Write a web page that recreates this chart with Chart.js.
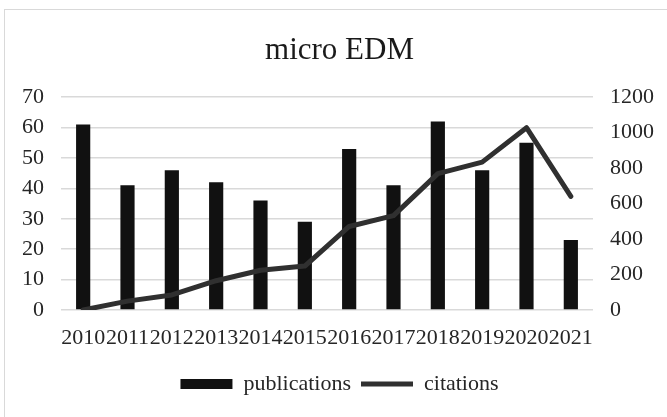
<!DOCTYPE html>
<html>
<head>
<meta charset="utf-8">
<title>micro EDM</title>
<script src="https://cdn.jsdelivr.net/npm/chart.js@4.4.1/dist/chart.umd.min.js"></script>
<style>
  html, body { margin: 0; padding: 0; background: #fff; }
  .frame {
    position: absolute; left: 4px; top: 9px; width: 700px; height: 450px;
    border-left: 1.5px solid #d9d9d9; border-top: 1.5px solid #d9d9d9;
  }
  .chart-box { position: relative; width: 667px; height: 417px; }
</style>
</head>
<body>
<div class="frame"></div>
<div class="chart-box">
  <canvas id="edmChart"></canvas>
</div>
<script>
const years = ['2010', '2011', '2012', '2013', '2014', '2015', '2016', '2017', '2018', '2019', '2020', '2021'];
const publications = [61, 41, 46, 42, 36, 29, 53, 41, 62, 46, 55, 23];
const citations = [0, 50, 85, 165, 224, 248, 471, 532, 769, 834, 1028, 641];
const pubTicks = [0, 10, 20, 30, 40, 50, 60, 70];
const citeTicks = [0, 200, 400, 600, 800, 1000, 1200];

const serif = 'Liberation Serif, Times New Roman, serif';
const textColor = '#262626';

const ctx = document.getElementById('edmChart').getContext('2d');
new Chart(ctx, {
  type: 'bar',
  data: {
    labels: years,
    datasets: [
      {
        label: 'publications',
        data: publications,
        backgroundColor: '#111111',
        borderWidth: 0,
        barPercentage: 0.32,
        categoryPercentage: 1,
        yAxisID: 'y',
        order: 1
      },
      {
        type: 'line',
        label: 'citations',
        data: citations,
        borderColor: '#303030',
        backgroundColor: '#303030',
        borderWidth: 5,
        borderCapStyle: 'round',
        borderJoinStyle: 'round',
        pointRadius: 0,
        tension: 0,
        yAxisID: 'y1',
        order: 0
      }
    ]
  },
  options: {
    responsive: true,
    maintainAspectRatio: false,
    animation: false,
    layout: { padding: { left: 12, right: 0, top: 0, bottom: 12 } },
    plugins: {
      title: {
        display: true,
        text: 'micro EDM',
        color: '#1a1a1a',
        font: { family: serif, size: 31, weight: 'normal' },
        padding: { top: 32, bottom: 28 }
      },
      legend: {
        position: 'bottom',
        labels: {
          color: textColor,
          font: { family: serif, size: 22 },
          usePointStyle: true,
          pointStyleWidth: 52,
          boxHeight: 10,
          padding: 10,
          sort: (a, b) => a.datasetIndex - b.datasetIndex,
          generateLabels: (chart) => {
            const items = Chart.defaults.plugins.legend.labels.generateLabels(chart);
            items.forEach(item => {
              item.pointStyle = item.datasetIndex === 0 ? 'rect' : 'line';
              if (item.datasetIndex === 0) item.lineWidth = 0;
            });
            return items;
          }
        }
      },
      tooltip: { enabled: false }
    },
    scales: {
      x: {
        grid: { display: false, drawTicks: false },
        border: { display: false },
        ticks: {
          color: textColor,
          font: { family: serif, size: 22 },
          padding: 15,
          maxRotation: 0,
          minRotation: 0,
          autoSkip: false
        },
        afterFit: (scale) => { scale.height = 53; }
      },
      y: {
        position: 'left',
        min: 0,
        max: 70,
        afterBuildTicks: (scale) => { scale.ticks = pubTicks.map(v => ({ value: v })); },
        grid: { color: '#d9d9d9', lineWidth: 1.5, drawTicks: false },
        border: { display: false },
        ticks: {
          color: textColor,
          font: { family: serif, size: 22 },
          padding: 17,
          callback: (v) => String(v)
        },
        afterFit: (scale) => { scale.width = 49; }
      },
      y1: {
        position: 'right',
        min: 0,
        max: 1200,
        afterBuildTicks: (scale) => { scale.ticks = citeTicks.map(v => ({ value: v })); },
        grid: { display: false, drawTicks: false },
        border: { display: false },
        ticks: {
          color: textColor,
          font: { family: serif, size: 22 },
          padding: 17,
          callback: (v) => String(v)
        },
        afterFit: (scale) => { scale.width = 74; }
      }
    }
  }
});
</script>
</body>
</html>
